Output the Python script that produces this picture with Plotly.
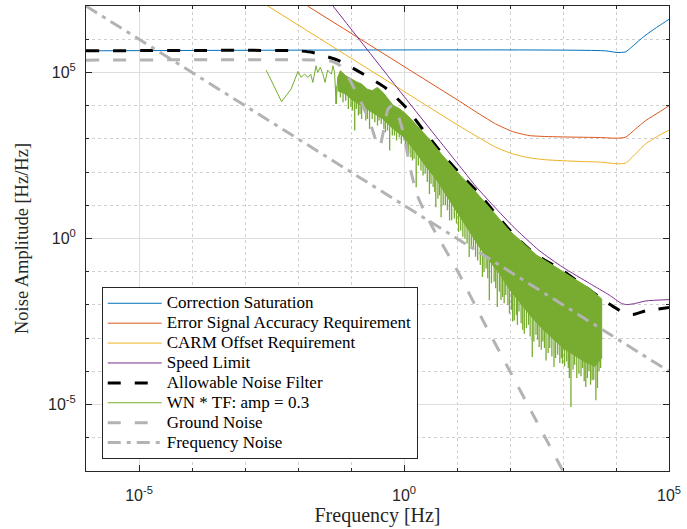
import numpy as np
import plotly.graph_objects as go

# ---- data (log10 of frequency [Hz] and of amplitude [Hz/Hz]) ----
cs_f = [-6.0, 3.8, 4.02, 4.18, 4.3, 4.45, 4.6, 4.81, 5.0]
cs_a = [5.65, 5.65, 5.60, 5.62, 5.77, 5.98, 6.17, 6.40, 6.60]

esa_f = [-1.82, 0.0, 1.0, 1.42, 1.73, 2.05, 2.36, 2.68, 3.30, 3.70, 4.02, 4.18, 4.37, 4.56, 4.81, 5.0]
esa_a = [7.0, 5.18, 4.18, 3.75, 3.45, 3.22, 3.10, 3.07, 3.05, 3.04, 3.02, 3.05, 3.30, 3.55, 3.80, 4.00]

carm_f = [-2.57, 0.0, 1.0, 1.42, 1.73, 2.05, 2.36, 2.68, 3.30, 3.70, 4.02, 4.18, 4.37, 4.56, 4.81, 5.0]
carm_a = [7.0, 4.43, 3.43, 3.03, 2.75, 2.55, 2.43, 2.37, 2.32, 2.30, 2.25, 2.27, 2.55, 2.85, 3.10, 3.26]

speed_f = [-1.34, 0.0, 1.0, 1.36, 1.61, 2.04, 2.55, 3.0, 3.5, 3.87, 4.1, 4.2, 4.35, 4.56, 5.0]
speed_a = [7.0, 4.28, 2.28, 1.56, 1.12, 0.39, -0.36, -0.87, -1.35, -1.70, -1.95, -1.99, -1.96, -1.88, -1.84]

anf_f = [-6.0, -2.0, -1.72, -1.5, -1.22, -0.78, -0.33, 0.04, 0.35, 0.72, 1.04, 1.42, 1.74, 2.12,
         2.5, 2.93, 3.34, 3.77, 4.02, 4.2, 4.35, 4.55, 4.77, 5.0]
anf_a = [5.65, 5.65, 5.60, 5.50, 5.35, 4.96, 4.51, 3.94, 3.30, 2.55, 1.98, 1.35, 0.72, 0.03,
         -0.50, -0.90, -1.36, -1.86, -2.12, -2.28, -2.28, -2.18, -2.13, -2.08]

# WN * TF: sparse low-frequency part of the spectrum
wn_f = [-2.60, -2.31, -2.13, -2.00, -1.94, -1.88, -1.81, -1.76, -1.72, -1.66, -1.63, -1.58,
        -1.53, -1.49, -1.44, -1.37, -1.34, -1.31, -1.28, -1.25, -1.22]
wn_a = [5.07, 4.12, 4.50, 5.03, 4.85, 4.95, 4.85, 4.95, 4.70, 5.20, 5.00, 5.15,
        4.95, 4.70, 5.07, 4.95, 5.20, 5.00, 4.05, 4.85, 4.45]

# WN * TF: dense part, upper edge of the band
wn_top_f = [-1.25, -1.2, -1.1, -1.0, -0.9, -0.8, -0.7, -0.6, -0.5, -0.4, -0.3, -0.2, -0.1, 0.0,
            0.1, 0.3, 0.5, 0.7, 1.0, 1.3, 1.6, 2.0, 2.5, 3.0, 3.3, 3.5, 3.73]
wn_top_a = [4.85, 5.05, 4.90, 4.80, 4.72, 4.65, 4.50, 4.45, 4.55, 4.40, 4.20, 4.00, 3.92, 3.80,
            3.65, 3.30, 2.95, 2.55, 2.00, 1.50, 0.95, 0.22, -0.50, -1.00, -1.30, -1.50, -1.82]

# WN * TF: dense part, lower edge of the solid band
wn_low_f = [-1.25, -1.1, -1.0, -0.8, -0.6, -0.4, -0.2, 0.0, 0.2, 0.4, 0.6, 0.8, 1.0, 1.2, 1.4,
            1.6, 1.8, 2.0, 2.2, 2.4, 2.6, 2.8, 3.0, 3.2, 3.4, 3.6, 3.73]
wn_low_a = [4.45, 4.35, 4.20, 4.00, 3.80, 3.60, 3.30, 3.05, 2.65, 2.20, 1.80, 1.30, 0.80, 0.30, -0.20,
            -0.65, -1.05, -1.55, -1.95, -2.35, -2.70, -3.00, -3.30, -3.50, -3.70, -3.85, -3.60]

# WN * TF: downward spikes below the band (frequency, band level, spike depth)
spk_f = [-1.28, -1.20, -1.15, -1.10, -1.05, -1.00, -0.97, -0.93, -0.90, -0.86, -0.83, -0.80,
         -0.76, -0.72, -0.69, -0.65, -0.60, -0.55, -0.50, -0.47, -0.43, -0.38, -0.35, -0.31,
         -0.27, -0.22, -0.18, -0.14, -0.09, -0.05, 0.00, 0.03, 0.06, 0.09, 0.13, 0.16, 0.19,
         0.23, 0.27, 0.32, 0.36, 0.40, 0.44, 0.48, 0.51, 0.55, 0.58, 0.60, 0.64, 0.67, 0.70,
         0.74, 0.78, 0.82, 0.86, 0.90, 0.95, 0.99, 1.03, 1.07, 1.11, 1.15, 1.19, 1.23, 1.27,
         1.31, 1.35, 1.39, 1.44, 1.48, 1.51, 1.55, 1.58, 1.61, 1.65, 1.70, 1.73, 1.76, 1.80,
         1.83, 1.86, 1.89, 1.92, 1.96, 1.99, 2.03, 2.05, 2.08, 2.12, 2.14, 2.17, 2.21, 2.24,
         2.27, 2.31, 2.35, 2.38, 2.42, 2.45, 2.49, 2.52, 2.55, 2.59, 2.62, 2.65, 2.68, 2.72,
         2.75, 2.79, 2.83, 2.86, 2.90, 2.94, 2.97, 2.99, 3.03, 3.07, 3.10, 3.12, 3.15, 3.19,
         3.22, 3.26, 3.30, 3.34, 3.37, 3.40, 3.43, 3.46, 3.49, 3.52, 3.55, 3.58, 3.62, 3.65,
         3.68, 3.71]
spk_top = [4.60, 4.60, 4.55, 4.50, 4.45, 4.35, 4.30, 4.25, 4.25, 4.20, 4.20, 4.10,
           4.10, 4.05, 4.00, 4.00, 3.95, 3.90, 3.85, 3.80, 3.70, 3.70, 3.60, 3.60,
           3.50, 3.50, 3.40, 3.40, 3.30, 3.30, 3.20, 3.15, 3.10, 3.05, 2.95, 2.90, 2.85,
           2.75, 2.65, 2.55, 2.45, 2.35, 2.30, 2.20, 2.15, 2.05, 2.00, 1.95, 1.85, 1.80, 1.70,
           1.60, 1.50, 1.40, 1.30, 1.20, 1.05, 1.00, 0.90, 0.80, 0.70, 0.60, 0.50, 0.40, 0.30,
           0.20, 0.10, 0.00, -0.15, -0.25, -0.30, -0.40, -0.50, -0.55, -0.65, -0.80, -0.85, -0.90, -0.95,
           -1.00, -1.10, -1.20, -1.25, -1.35, -1.40, -1.50, -1.55, -1.60, -1.70, -1.70, -1.75, -1.90, -1.95,
           -1.95, -2.05, -2.10, -2.20, -2.25, -2.30, -2.40, -2.45, -2.50, -2.55, -2.60, -2.65, -2.70, -2.75,
           -2.80, -2.85, -2.90, -2.95, -3.00, -3.05, -3.10, -3.20, -3.20, -3.25, -3.30, -3.30, -3.30, -3.40,
           -3.35, -3.45, -3.45, -3.55, -3.55, -3.60, -3.60, -3.65, -3.65, -3.70, -3.70, -3.75, -3.75, -3.75,
           -3.45, -3.50]
spk_bot = [4.05, 4.25, 4.10, 4.15, 3.90, 3.95, 3.85, 3.25, 3.90, 3.70, 3.75, 3.60,
           3.85, 3.55, 3.60, 3.30, 3.60, 3.50, 3.40, 3.55, 3.45, 3.30, 3.20, 3.25,
           2.65, 3.10, 3.10, 2.95, 3.05, 2.85, 2.95, 2.75, 2.70, 2.55, 2.45, 2.35, 2.40,
           1.54, 2.20, 2.05, 1.90, 1.95, 1.70, 1.34, 1.65, 1.55, 1.40, 0.94, 1.20, 1.30, 0.64,
           1.00, 1.00, 0.85, 0.54, 0.55, 0.60, 0.45, 0.20, 0.24, 0.05, 0.00, -0.15, -0.56, -0.30,
           -0.30, -0.55, -0.66, -0.80, -1.16, -1.00, -0.90, -1.20, -1.86, -1.35, -1.30, -1.50, -2.06, -1.60,
           -1.85, -1.76, -1.95, -1.70, -2.00, -2.26, -2.15, -2.50, -2.47, -2.30, -2.60, -2.20, -2.55, -2.75,
           -2.87, -2.70, -2.60, -2.95, -3.57, -3.10, -2.90, -3.05, -3.27, -3.35, -3.10, -3.30, -3.67, -3.45,
           -3.30, -3.55, -3.87, -3.60, -3.50, -3.75, -3.60, -3.77, -3.85, -3.70, -3.90, -4.20, -5.07, -3.95,
           -3.80, -4.20, -4.07, -4.15, -3.90, -4.30, -4.47, -4.20, -4.00, -4.40, -4.27, -4.25, -4.87, -4.50,
           -4.00, -3.90]

gn_f = [-6.0, -1.6, -1.35, -1.2, -1.05, -0.9, -0.75, -0.6, -0.52, -0.46, -0.38, -0.3, -0.22,
        -0.12, 0.0, 0.12, 0.25, 0.5, 1.0, 1.5, 2.0, 2.5, 3.0]
gn_a = [5.37, 5.37, 5.33, 5.20, 4.85, 4.40, 3.90, 3.30, 2.90, 2.75, 3.30, 3.90, 4.00,
        3.75, 3.10, 2.10, 1.30, 0.45, -0.95, -2.50, -4.00, -5.50, -7.00]

fn_f = [-6.0, 5.0]
fn_a = [7.0, -4.0]


def p10(v):
    return np.power(10.0, np.asarray(v, dtype=float))


SERIF = "Liberation Serif"
SANS = "Liberation Sans"
INK = "#262626"
LEG_PX = 17  # rendered size of legend entries


def leg(name):
    return f'<span style="font-size:{LEG_PX}px">{name}</span>'


fig = go.Figure()

lines = [
    ("Correction Saturation", cs_f, cs_a, "#0072BD"),
    ("Error Signal Accuracy Requirement", esa_f, esa_a, "#D95319"),
    ("CARM Offset Requirement", carm_f, carm_a, "#EDB120"),
    ("Speed Limit", speed_f, speed_a, "#7E2F8E"),
]
for name, f, a, c in lines:
    fig.add_trace(go.Scatter(x=p10(f), y=p10(a), mode="lines", name=leg(name),
                             line=dict(color=c, width=1, shape="spline", smoothing=0.6)))

fig.add_trace(go.Scatter(x=p10(anf_f), y=p10(anf_a), mode="lines", name=leg("Allowable Noise Filter"),
                         line=dict(color="black", width=3, dash="13px,14px",
                                   shape="spline", smoothing=0.6)))

green = "#77AC30"
fig.add_trace(go.Scatter(x=p10(wn_f), y=p10(wn_a), mode="lines", name=leg("WN * TF: amp = 0.3"),
                         legendgroup="wn", line=dict(color=green, width=1)))
band_f = list(wn_top_f) + list(wn_low_f)[::-1]
band_a = list(wn_top_a) + list(wn_low_a)[::-1]
fig.add_trace(go.Scatter(x=p10(band_f), y=p10(band_a), mode="lines", fill="toself",
                         fillcolor=green, line=dict(color=green, width=1),
                         legendgroup="wn", showlegend=False, hoverinfo="skip"))
sx, sy = [], []
for f, t, b in zip(spk_f, spk_top, spk_bot):
    sx += [10.0 ** f, 10.0 ** f, None]
    sy += [10.0 ** t, 10.0 ** b, None]
fig.add_trace(go.Scatter(x=sx, y=sy, mode="lines", line=dict(color=green, width=1.3),
                         legendgroup="wn", showlegend=False, hoverinfo="skip"))

grey = "#B3B3B3"
fig.add_trace(go.Scatter(x=p10(gn_f), y=p10(gn_a), mode="lines", name=leg("Ground Noise"),
                         line=dict(color=grey, width=3, dash="13px,14px",
                                   shape="spline", smoothing=0.6)))
fig.add_trace(go.Scatter(x=p10(fn_f), y=p10(fn_a), mode="lines", name=leg("Frequency Noise"),
                         line=dict(color=grey, width=3, dash="13px,6px,4px,6px")))

major = [1e-5, 1e0, 1e5]
major_txt = ["10<sup>-5</sup>", "10<sup>0</sup>", "10<sup>5</sup>"]
x_minor = [10.0 ** k for k in range(-6, 6)]
y_minor = [10.0 ** k for k in range(-7, 8)]

axis_common = dict(
    type="log", showline=True, linecolor=INK, linewidth=1, mirror="allticks",
    ticks="inside", ticklen=6, tickcolor=INK, tickwidth=1,
    tickmode="array", tickvals=major, ticktext=major_txt,
    tickfont=dict(family=SANS, size=16, color=INK),
    showgrid=True, gridcolor="#DEDEDE", gridwidth=1, zeroline=False,
)

fig.update_xaxes(**axis_common, range=[-6, 5], ticklabelstandoff=10,
                 minor=dict(tickmode="array", tickvals=x_minor, ticks="inside", ticklen=3,
                            tickcolor=INK, showgrid=True, gridcolor="#D0D0D0", griddash="dot"),
                 title=dict(text="Frequency [Hz]", font=dict(family=SERIF, size=20, color=INK),
                            standoff=4))
fig.update_yaxes(**axis_common, range=[-7, 7], ticklabelstandoff=6,
                 minor=dict(tickmode="array", tickvals=y_minor, ticks="inside", ticklen=3,
                            tickcolor=INK, showgrid=True, gridcolor="#D0D0D0", griddash="dot"),
                 title=dict(text="Noise Amplitude [Hz/Hz]", font=dict(family=SERIF, size=18.5, color=INK),
                            standoff=14))

fig.update_layout(
    width=687, height=529,
    margin=dict(l=86, r=18, t=6, b=58),
    paper_bgcolor="white", plot_bgcolor="white",
    showlegend=True,
    legend=dict(x=0.027, y=0.395, xanchor="left", yanchor="top",
                bgcolor="white", bordercolor=INK, borderwidth=1,
                font=dict(family=SERIF, size=13, color="black"),
                itemwidth=54, tracegroupgap=0),
)

fig.write_html("out.html")
